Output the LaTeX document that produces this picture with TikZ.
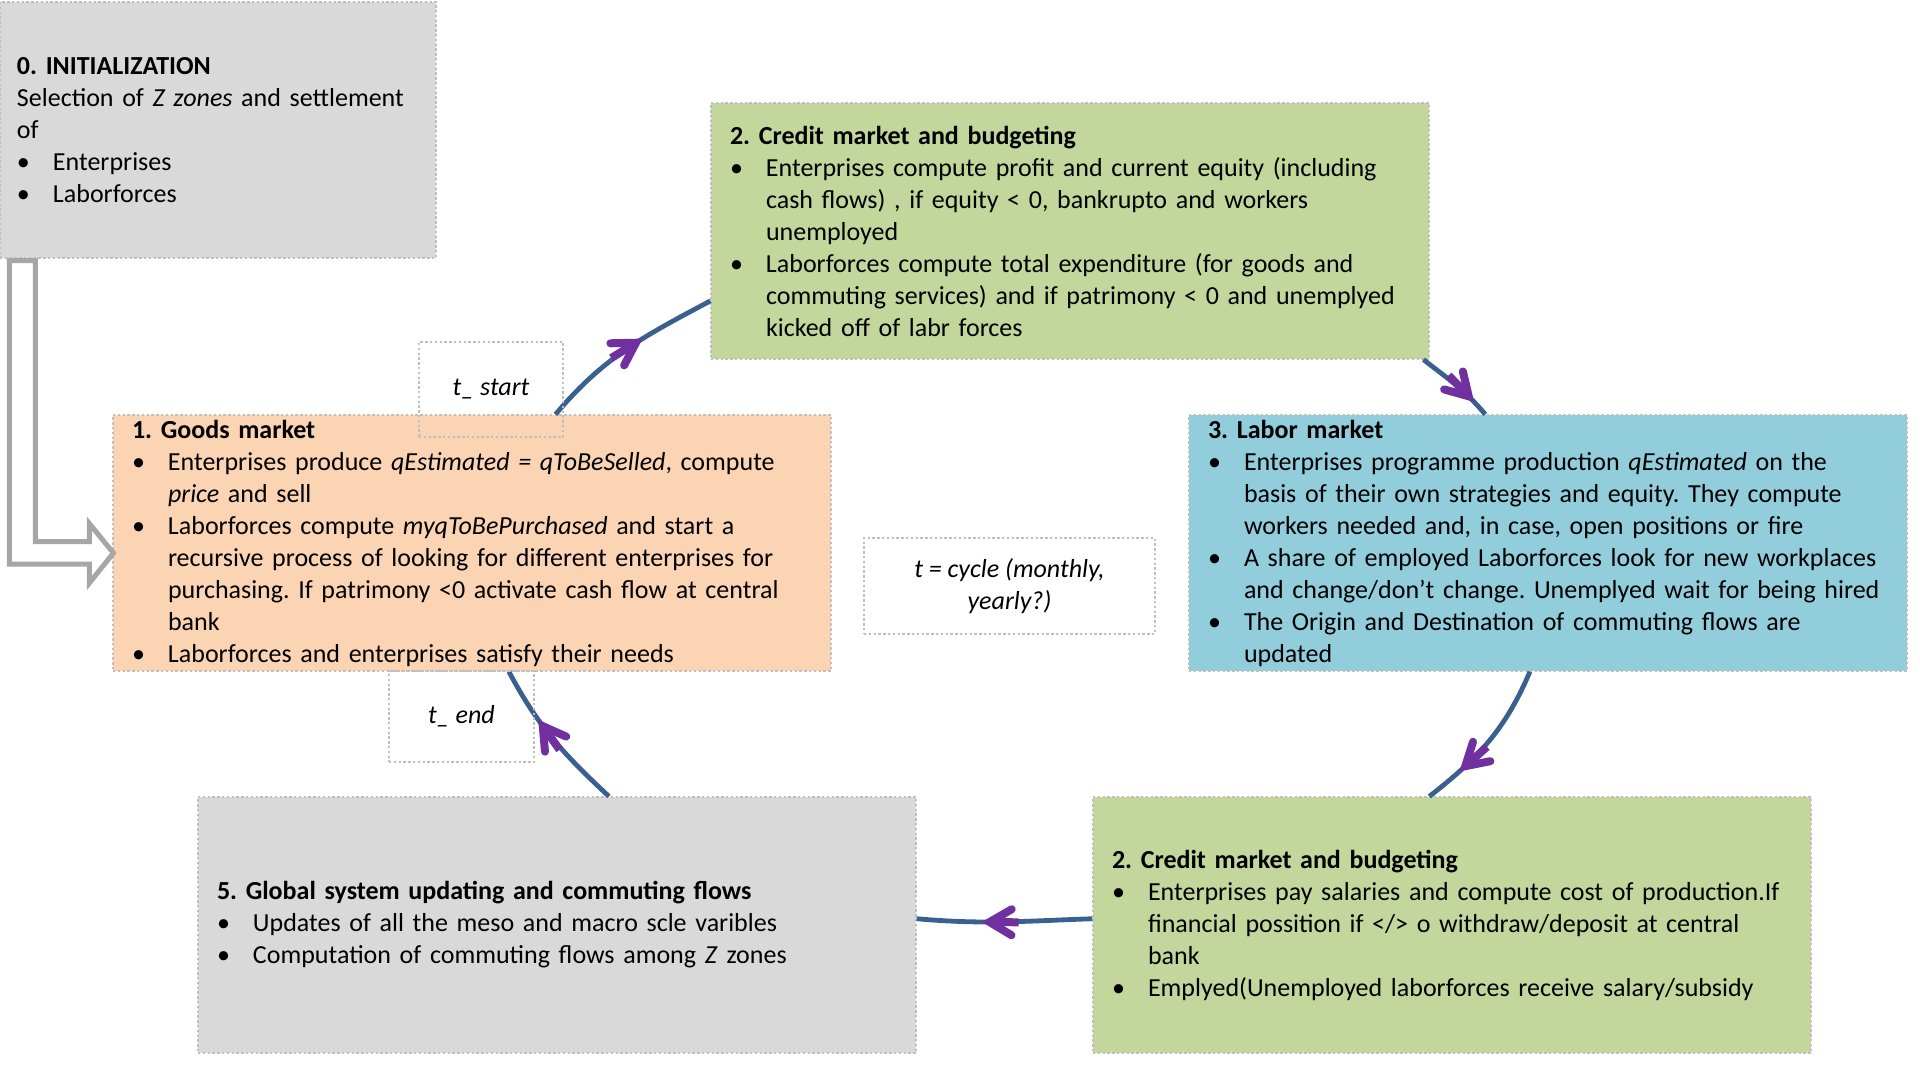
\documentclass[tikz,border=0pt]{standalone}
\usepackage{fontspec}
\setmainfont{Carlito}
\usetikzlibrary{calc, decorations.markings}
\setlength{\parindent}{0pt}
\frenchspacing

\definecolor{boxgray}{HTML}{D9D9D9}
\definecolor{boxgreen}{HTML}{C3D69B}
\definecolor{boxorange}{HTML}{FBD4B4}
\definecolor{boxblue}{HTML}{92CDDC}
\definecolor{edgegray}{HTML}{BFBFBF}
\definecolor{cycleblue}{HTML}{3A6090}
\definecolor{headpurple}{HTML}{7030A0}
\definecolor{initgray}{HTML}{A6A6A6}

% bullet line with hanging indent
\newcommand{\bul}{\par\hangindent=18pt\hangafter=1\noindent\makebox[18pt][l]{\textbullet}}
% purple head put on the cycle
\newcommand{\cyclehead}{%
  \draw[headpurple, line width=4pt] (-37,0) -- (-8,0);
  \draw[headpurple, line width=4pt, line cap=round, line join=miter] (-30,13) -- (-8,0) -- (-30,-13);}

\tikzset{
  stage/.style={draw=edgegray, line width=0.6pt, dash pattern=on 1.2pt off 1.2pt,
    minimum width=359pt, minimum height=128pt, text width=340pt,
    inner xsep=9.5pt, inner ysep=0pt, align=left, font=\fontsize{13}{16}\selectfont},
  tnote/.style={draw=edgegray, line width=0.6pt, dash pattern=on 1.2pt off 1.2pt,
    inner sep=0pt, align=center, font=\fontsize{13}{16}\selectfont\itshape},
  cyc/.style={draw=cycleblue, line width=2.4pt,
    postaction={decorate, decoration={markings, mark=at position #1 with {\cyclehead}}}},
}

\begin{document}
\begin{tikzpicture}[x=0.5pt, y=-0.5pt]
    \useasboundingbox (0,0) rectangle (1920,1081);

    % stages of the cycle
    \node[stage, fill=boxgray, minimum width=218pt, text width=201pt, inner xsep=8.5pt] (init) at (218,130) {%
        \textbf{0. INITIALIZATION}\par
        Selection of \textit{Z zones} and settlement\newline of
        \bul Enterprises
        \bul Laborforces\par};
    \node[stage, fill=boxgreen] (creditA) at (1070,231) {%
        \textbf{2. Credit market and budgeting}
        \bul Enterprises compute profit and current equity (including\newline cash flows) , if equity < 0, bankrupto and workers\newline unemployed
        \bul Laborforces compute total expenditure (for goods and\newline commuting services) and if patrimony < 0 and unemplyed\newline kicked off of labr forces\par};
    \node[stage, fill=boxorange] (goods) at (472,543) {%
        \textbf{1. Goods market}
        \bul Enterprises produce \textit{qEstimated = qToBeSelled}, compute\newline \textit{price} and sell
        \bul Laborforces compute \textit{myqToBePurchased} and start a\newline recursive process of looking for different enterprises for\newline purchasing. If patrimony <0 activate cash flow at central\newline bank
        \bul Laborforces and enterprises satisfy their needs\par};
    \node[stage, fill=boxblue] (labor) at (1548,543) {%
        \textbf{3. Labor market}
        \bul Enterprises programme production \textit{qEstimated} on the\newline basis of their own strategies and equity. They compute\newline workers needed and, in case, open positions or fire
        \bul A share of employed Laborforces look for new workplaces\newline and change/don’t change. Unemplyed wait for being hired
        \bul The Origin and Destination of commuting flows are\newline updated\par};
    \node[stage, fill=boxgray] (update) at (557,925) {%
        \textbf{5. Global system updating and commuting flows}
        \bul Updates of all the meso and macro scle varibles
        \bul Computation of commuting flows among \textit{Z} zones\par};
    \node[stage, fill=boxgreen] (creditB) at (1452,925) {%
        \textbf{2. Credit market and budgeting}
        \bul Enterprises pay salaries and compute cost of production.If\newline financial possition if </> o withdraw/deposit at central\newline bank
        \bul Emplyed(Unemployed laborforces receive salary/subsidy\par};

    % the cycle
    \draw[cyc=0.6] (goods.57) to[out=50, in=208] (creditA.191);
    \draw[cyc=0.8] (creditA.-20) to[out=-38, in=130] (labor.116);
    \draw[cyc=0.76] (labor.-98) to[out=-113, in=38] (creditB.100);
    \draw[cyc=0.63] (creditB.179) to[out=182, in=-5] (update.1);
    \draw[cyc=0.65] (update.68) to[out=137, in=-62] (goods.-74);

    % time notes
    \node[tnote, minimum width=72pt, minimum height=47.5pt] (tstart) at (491,389.5) {t\_ start};
    \node[tnote, minimum width=72.5pt, minimum height=45.5pt] (tend) at (461.5,716.5) {t\_ end};
    \node[tnote, minimum width=145.5pt, minimum height=48pt] (tcycle) at (1009.5,586) {t = cycle (monthly,\\ yearly?)};

    % initialization feeds the goods market
    \draw[initgray, line width=2.5pt, fill=white] ($(init.south west)+(10,2)$) -- ++(26,0) -- ++(0,281)
        -- ++(54,0) -- ++(0,-18) -- ($(goods.west)+(1,10)$) -- ++(-24,30) -- ++(0,-19) -- ++(-80,0) -- cycle;
\end{tikzpicture}
\end{document}
